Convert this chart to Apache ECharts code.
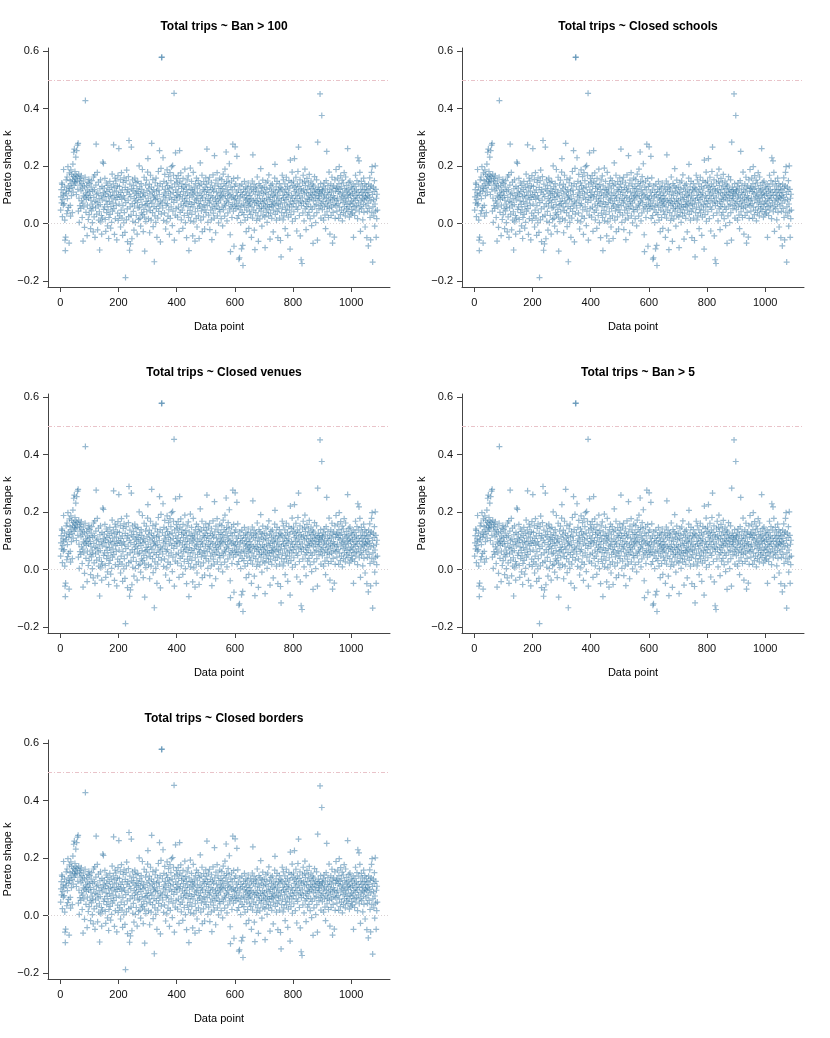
<!DOCTYPE html>
<html lang="en">
  <head>
    <meta charset="UTF-8" />
    <script src="https://cdn.jsdelivr.net/npm/echarts@6/dist/echarts.min.js"></script>
    <title>Pareto shape k</title>
    <style>
      html, body { margin: 0; padding: 0; background: #fff; }
      #chart { width: 830px; height: 1038px; }
    </style>
  </head>
  <body>
    <div id="chart"></div>
  <script>
    // panel titles, one per model
    const panelTitles = [
      "Total trips ~ Ban > 100",
      "Total trips ~ Closed schools",
      "Total trips ~ Closed venues",
      "Total trips ~ Ban > 5",
      "Total trips ~ Closed borders"
    ];
    const xTicks = [0, 200, 400, 600, 800, 1000];
    const yTicks = [-0.2, 0, 0.2, 0.4, 0.6];
    const yTickLabels = ["\u22120.2", "0.0", "0.2", "0.4", "0.6"];
    const kThreshold = 0.5;

    // Pareto k per data point (same in every panel)
    const paretoK = [
      0.047,0.093,0.118,0.072,0.141,0.136,0.024,0.083,0.107,0.064,0.188,0.098,0.069,0.127,0.012,-0.058,-0.094,-0.047,0.103,0.152,
      0.116,0.034,0.162,0.087,0.045,0.198,0.131,0.056,0.112,-0.068,0.176,0.122,0.149,0.063,0.026,0.187,0.138,0.097,0.171,0.124,
      0.038,0.153,0.207,0.109,0.164,0.248,0.133,0.259,0.146,0.181,
      0.158,0.142,0.231,0.168,0.101,0.254,0.147,0.163,0.273,0.119,0.279,0.043,0.172,0.088,0.004,0.151,0.062,0.134,0.157,0.053,
      0.114,0.166,0.079,0.139,0.021,0.123,0.071,-0.061,0.096,0.148,0.058,0.128,-0.013,0.092,0.161,0.428,0.107,0.039,0.084,0.132,
      0.099,-0.042,0.064,0.117,0.143,0.014,0.089,0.154,0.031,0.111,
      0.139,0.052,0.098,-0.018,0.081,0.127,0.044,0.149,0.068,0.003,0.113,0.057,-0.029,0.162,0.091,0.023,0.118,0.169,-0.048,0.077,
      0.054,0.134,0.276,0.102,0.033,0.074,0.178,-0.022,0.106,0.061,0.144,0.012,0.087,0.041,-0.092,0.121,0.066,0.152,0.006,0.097,
      0.028,-0.037,0.129,0.082,0.019,0.214,0.108,0.209,0.049,0.093,
      0.123,0.058,0.157,0.014,0.103,-0.027,0.079,0.141,0.038,0.112,0.067,-0.008,0.133,0.048,0.094,-0.052,0.021,0.118,0.076,0.147,
      0.032,0.099,-0.016,0.059,0.127,0.004,0.088,0.172,0.043,0.109,0.071,0.138,0.274,0.052,0.097,-0.038,0.124,0.158,0.017,0.083,
      0.148,0.063,0.113,-0.057,0.091,0.131,0.036,0.167,0.011,0.101,
      0.261,0.068,0.129,0.027,0.093,0.153,-0.012,0.108,0.047,0.177,0.084,0.019,0.117,-0.041,0.062,0.143,0.097,0.002,0.159,0.038,
      0.088,-0.031,0.126,-0.188,0.073,0.149,0.013,0.186,0.109,0.051,-0.063,0.118,0.081,0.163,0.024,0.289,0.102,-0.093,0.137,0.058,
      -0.071,0.094,0.029,0.266,0.121,-0.053,0.069,0.152,0.008,0.114,
      0.042,0.132,-0.023,0.087,0.061,0.158,0.106,0.003,0.079,0.143,0.028,0.099,0.121,-0.037,0.073,0.147,0.054,0.112,0.014,0.091,
      0.201,0.057,0.128,0.018,0.104,-0.009,0.083,0.139,0.037,0.119,0.066,0.188,0.031,0.094,-0.028,0.108,0.049,0.161,0.022,-0.096,
      0.098,0.063,0.134,0.007,0.077,0.151,0.041,0.114,0.069,0.179,
      0.226,0.088,0.017,0.121,0.058,0.137,-0.032,0.103,0.046,0.168,0.079,0.012,0.127,0.279,0.071,0.109,0.038,0.153,-0.011,0.092,
      0.118,0.059,-0.133,0.097,0.027,0.142,0.083,0.004,0.158,0.052,0.113,-0.048,0.087,0.131,0.019,0.068,0.181,0.042,0.116,0.101,
      0.254,0.061,0.139,-0.064,0.078,0.192,0.033,0.578,0.579,0.072,
      0.128,0.054,0.229,0.093,0.011,0.147,0.107,0.037,0.171,0.082,0.119,-0.019,0.098,0.063,0.141,0.006,0.187,0.069,0.132,0.026,
      0.112,0.163,0.048,0.089,-0.038,0.123,0.177,0.018,0.103,0.149,0.058,0.198,0.084,0.127,-0.007,0.202,0.043,0.108,0.168,0.074,
      0.453,-0.058,0.138,0.091,0.029,0.246,0.117,0.052,0.156,0.097,
      0.081,0.143,0.022,0.109,0.167,0.057,0.129,-0.027,0.093,0.254,0.148,0.039,0.101,0.176,0.068,0.013,0.122,0.138,0.047,0.086,
      -0.017,0.157,0.111,0.062,0.127,0.028,0.078,0.189,0.097,0.003,0.136,0.071,0.119,-0.049,0.088,0.152,0.036,0.107,0.059,0.166,
      0.021,-0.094,0.131,0.076,0.099,0.046,0.193,0.009,0.118,0.067,
      0.147,0.032,0.092,0.116,-0.043,0.058,0.178,0.103,0.006,0.127,0.073,0.109,-0.061,0.041,0.139,0.082,0.018,0.158,0.087,-0.012,
      0.121,0.053,0.098,0.149,0.027,0.069,-0.052,0.132,0.061,0.107,0.211,0.079,0.012,0.137,0.044,0.096,0.168,-0.028,0.089,0.057,
      0.118,0.023,0.146,0.066,0.112,-0.019,0.048,0.127,0.081,0.159,
      0.038,0.101,0.137,0.259,0.062,0.118,0.004,0.087,0.148,0.029,0.108,0.072,0.161,-0.021,0.079,0.126,0.047,0.097,0.013,0.142,
      -0.056,0.058,0.119,0.091,0.169,0.036,0.113,0.068,0.019,0.236,0.131,0.052,0.086,-0.032,0.151,0.077,0.109,0.061,0.177,0.027,
      0.096,0.138,0.071,0.002,0.122,0.049,0.088,0.158,0.041,0.107,
      0.082,0.128,0.017,0.099,0.153,0.057,0.121,-0.008,0.093,0.172,0.048,0.112,0.139,0.068,0.026,0.189,0.097,0.062,0.131,0.249,
      0.078,0.147,0.009,0.118,0.087,0.037,0.163,0.106,0.073,0.142,0.208,0.051,0.101,-0.039,-0.098,0.127,0.058,0.091,0.148,0.021,
      0.117,0.066,0.276,0.096,0.043,0.157,-0.079,0.083,0.129,0.061,
      0.267,0.087,0.138,0.052,0.109,0.071,0.234,0.018,0.097,0.159,0.059,0.117,0.028,-0.124,0.079,-0.119,0.131,0.048,0.093,0.003,
      0.108,0.063,-0.088,0.137,0.039,0.101,-0.076,-0.146,0.068,0.119,0.031,0.089,0.147,0.057,0.012,0.111,0.082,0.128,-0.028,0.098,
      0.047,0.072,0.123,0.021,0.086,0.141,0.062,-0.017,0.107,0.077,
      0.041,0.097,0.068,0.129,0.032,0.087,-0.048,0.118,0.058,0.148,0.019,0.239,0.081,0.112,0.047,0.137,-0.023,0.073,-0.091,0.102,
      0.126,0.038,0.079,0.121,0.011,0.063,0.162,0.088,0.027,0.109,-0.062,0.069,0.139,0.052,0.098,0.016,0.131,0.077,0.191,0.043,
      0.113,0.058,-0.009,0.124,0.086,0.151,0.029,0.071,0.104,0.053,
      0.127,0.079,0.023,-0.084,0.108,0.061,0.142,0.039,0.088,0.119,0.004,0.067,0.148,0.048,0.102,0.027,0.169,0.083,0.057,0.123,
      -0.054,0.091,0.036,0.133,0.066,0.111,0.018,0.059,0.138,0.077,0.098,-0.029,0.047,0.117,0.071,0.093,0.158,0.206,0.032,0.107,
      0.063,0.128,0.012,0.081,0.147,0.042,0.099,-0.049,0.068,0.118,
      0.052,0.087,0.139,0.019,0.113,0.068,-0.059,0.126,-0.116,0.081,0.038,0.121,0.168,0.057,0.098,0.013,0.152,0.089,0.027,0.109,
      0.072,0.138,-0.018,0.049,0.118,0.083,0.161,0.037,0.101,0.061,0.129,-0.041,0.092,0.022,0.107,0.149,0.066,0.047,0.123,-0.089,
      0.221,0.078,0.031,0.143,0.097,0.058,0.179,0.008,0.088,0.132,
      0.069,0.148,0.041,0.112,0.226,0.079,0.127,0.017,0.099,0.161,0.058,0.118,-0.026,0.087,0.138,0.049,0.181,0.107,0.266,0.072,
      0.129,0.028,0.096,0.152,-0.043,0.078,0.121,-0.126,0.062,0.113,-0.139,0.089,0.141,0.037,0.168,0.071,0.117,0.009,0.103,0.147,
      0.189,0.051,0.132,0.077,-0.021,0.108,0.059,0.157,0.086,0.029,
      0.119,0.068,0.142,0.097,0.039,0.171,0.083,0.128,0.017,0.107,0.058,0.148,0.091,-0.007,0.122,0.049,0.101,0.137,-0.069,0.079,
      0.131,0.027,0.109,0.163,0.061,0.088,0.118,0.003,0.098,0.067,0.152,0.038,0.112,-0.058,0.283,0.081,0.127,0.096,0.052,0.118,
      0.087,0.107,0.451,0.062,0.139,0.019,0.103,0.071,0.376,0.117,
      0.048,0.113,0.077,0.128,0.012,0.092,0.141,0.058,0.099,0.029,0.121,-0.018,0.068,0.149,0.087,0.251,0.041,0.108,0.061,0.132,
      0.079,0.021,0.102,0.179,0.053,0.118,-0.037,0.072,0.091,0.138,0.028,0.109,0.057,0.161,0.083,-0.068,0.123,0.039,0.097,0.131,
      0.066,-0.047,0.088,0.152,0.018,0.113,0.062,0.188,0.079,0.122,
      0.043,0.127,0.088,0.158,0.069,0.111,0.018,0.139,0.198,0.057,0.103,0.119,0.031,0.167,0.082,0.128,0.047,0.093,0.151,0.009,
      0.108,0.073,0.141,0.038,0.097,0.177,0.059,0.122,0.087,0.027,0.162,0.078,0.113,0.051,0.133,0.067,0.101,0.261,0.042,0.118,
      0.091,0.143,0.058,0.022,0.107,0.148,0.071,0.098,0.033,0.127,
      0.078,0.049,0.121,0.037,0.103,0.068,0.138,-0.048,0.087,0.059,0.112,0.028,0.129,0.081,0.168,0.047,0.097,0.117,0.062,0.149,
      0.089,0.017,0.229,0.108,0.072,0.137,0.218,0.041,0.099,0.178,0.058,-0.027,0.119,0.079,0.147,0.052,0.109,0.086,0.131,0.013,
      0.098,0.067,0.158,0.039,0.117,0.082,0.139,-0.012,0.093,0.107,
      0.061,0.128,0.087,-0.049,0.118,0.042,0.097,0.071,-0.078,0.137,0.108,0.053,0.091,0.159,0.021,0.122,-0.057,0.079,0.131,0.178,
      0.038,0.198,0.101,-0.134,0.058,0.127,0.083,0.027,0.112,0.149,-0.009,0.068,0.201,0.043,0.119,-0.048,0.088,0.017,0.102,0.047
    ];

    const myChart = echarts.init(document.getElementById("chart"), null, { renderer: "canvas" });

    const font = "Liberation Sans, Arial, Helvetica, sans-serif";
    const plusPath = "path://M2,0h1v2h2v1h-2v2h-1v-2h-2v-1h2z";
    const points = paretoK.map((k, i) => [i + 1, k]);

    const grids = [], xAxes = [], yAxes = [], series = [], titles = [];

    panelTitles.forEach((name, p) => {
      const col = p % 2;
      const row = Math.floor(p / 2);
      const left = 48 + col * 414;
      const top = 48 + row * 346;
      const width = 342;

      grids.push({ left: left, top: top, width: width, height: 239 });

      titles.push({
        text: name,
        left: left + width / 2,
        top: top - 32,
        textAlign: "center",
        textStyle: { fontFamily: font, fontSize: 12, fontWeight: "bold", color: "#000" }
      });

      xAxes.push({
        gridIndex: p,
        type: "value",
        min: -42.6,
        max: 1133.6,
        name: "Data point",
        nameLocation: "middle",
        nameGap: 34,
        nameTextStyle: { fontFamily: font, fontSize: 11, color: "#000" },
        splitLine: { show: false },
        axisLine: { onZero: false, lineStyle: { color: "#444", width: 1 } },
        axisTick: { customValues: xTicks, length: 5, lineStyle: { color: "#444" } },
        axisLabel: {
          customValues: xTicks,
          margin: 10,
          fontFamily: font,
          fontSize: 11,
          color: "#111",
          formatter: (v) => String(v)
        }
      });

      yAxes.push({
        gridIndex: p,
        type: "value",
        min: -0.2208,
        max: 0.6108,
        name: "Pareto shape k",
        nameLocation: "middle",
        nameGap: 34,
        nameTextStyle: { fontFamily: font, fontSize: 11, color: "#000" },
        splitLine: { show: false },
        axisLine: { show: true, onZero: false, lineStyle: { color: "#444", width: 1 } },
        axisTick: { show: true, customValues: yTicks, length: 5, lineStyle: { color: "#444" } },
        axisLabel: {
          customValues: yTicks,
          margin: 9,
          fontFamily: font,
          fontSize: 11,
          color: "#111",
          formatter: (v) => {
            const i = yTicks.findIndex((t) => Math.abs(t - v) < 1e-9);
            return i >= 0 ? yTickLabels[i] : v.toFixed(1);
          }
        }
      });

      series.push({
        type: "scatter",
        xAxisIndex: p,
        yAxisIndex: p,
        data: points,
        symbol: plusPath,
        symbolSize: 6,
        itemStyle: { color: "rgba(62,126,168,0.68)" },
        silent: true,
        markLine: {
          silent: true,
          symbol: "none",
          label: { show: false },
          data: [
            { yAxis: kThreshold, lineStyle: { color: "#e9c3c9", width: 1, type: [4, 2, 1, 2] } },
            { yAxis: 0, lineStyle: { color: "#d9d2d3", width: 1, type: [1, 2] } }
          ]
        }
      });
    });

    myChart.setOption({
      animation: false,
      backgroundColor: "#fff",
      title: titles,
      grid: grids,
      xAxis: xAxes,
      yAxis: yAxes,
      series: series
    });
  </script>
  </body>
</html>
